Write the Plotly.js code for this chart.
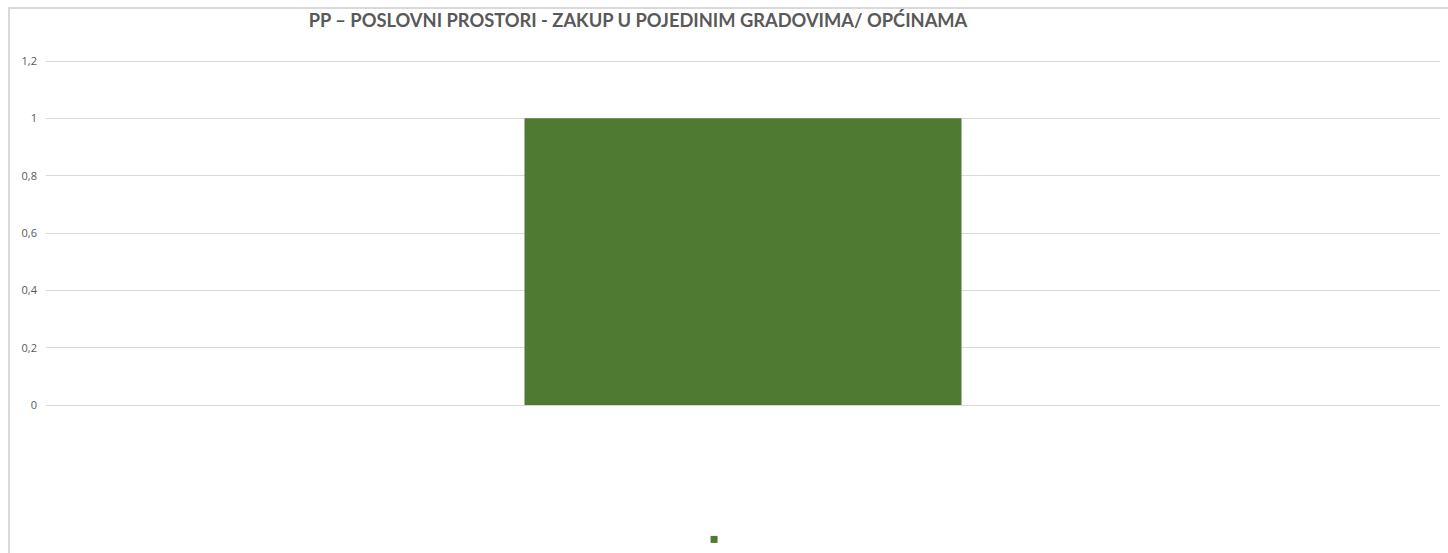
<!DOCTYPE html>
<html>
<head>
<meta charset="utf-8">
<script src="https://cdn.plot.ly/plotly-3.0.1.min.js"></script>
<style>
  html, body { margin: 0; padding: 0; background: #ffffff; overflow: hidden; }
  #wrap { position: relative; width: 1448px; height: 553px; }
  #frame { position: absolute; left: 8px; top: 7px; width: 1460px; height: 560px;
           border: 2px solid #d9d9d9; box-sizing: border-box; pointer-events: none; }
  #chart { position: absolute; left: 0; top: 0; width: 1448px; height: 553px; }
</style>
</head>
<body>
<div id="wrap">
  <div id="chart"></div>
  <div id="frame"></div>
</div>
<script>
const chartTitle = "PP – POSLOVNI PROSTORI - ZAKUP U POJEDINIM GRADOVIMA/ OPĆINAMA";
const categories = [" "];
const values = [1];
const seriesName = " ";
const yTicks = [0, 0.2, 0.4, 0.6, 0.8, 1, 1.2];

const green = "#4e7a31";

const traces = [
  {
    type: "bar",
    x: categories,
    y: values,
    name: seriesName,
    marker: { color: green },
    showlegend: false,
    hoverinfo: "y"
  },
  {
    type: "scatter",
    mode: "markers",
    x: [null],
    y: [null],
    name: seriesName,
    marker: { color: green, symbol: "square", size: 7 },
    showlegend: true
  }
];

const layout = {
  width: 1448,
  height: 553,
  margin: { l: 46, r: 8, t: 59, b: 148, pad: 0, autoexpand: false },
  paper_bgcolor: "#ffffff",
  plot_bgcolor: "#ffffff",
  separators: ", ",
  bargap: 0.6865,
  font: { family: "'Open Sans', Lato, sans-serif", color: "#595959", size: 11 },
  title: {
    text: "<b>" + chartTitle + "</b>",
    font: { family: "Lato, 'Open Sans', sans-serif", size: 18.3, color: "#595959" },
    x: 0.4247, xref: "paper", xanchor: "center",
    y: 0.962, yref: "container", yanchor: "middle"
  },
  xaxis: {
    type: "category",
    showticklabels: false,
    showgrid: false,
    zeroline: false,
    showline: false,
    ticks: "",
    fixedrange: true
  },
  yaxis: {
    range: [0, 1.207],
    tickvals: yTicks,
    showgrid: true,
    gridcolor: "#d9d9d9",
    gridwidth: 1,
    zeroline: true,
    zerolinecolor: "#d9d9d9",
    zerolinewidth: 1,
    showline: false,
    ticks: "",
    ticklabelstandoff: 8,
    tickfont: { family: "'Open Sans', Lato, sans-serif", size: 11, color: "#595959" },
    fixedrange: true
  },
  showlegend: true,
  legend: {
    orientation: "h",
    x: 0.4821, xanchor: "center",
    y: -0.3884, yanchor: "middle",
    font: { size: 10, color: "#595959" },
    bgcolor: "rgba(0,0,0,0)"
  }
};

Plotly.newPlot("chart", traces, layout, { displayModeBar: false, staticPlot: true });
</script>
</body>
</html>
